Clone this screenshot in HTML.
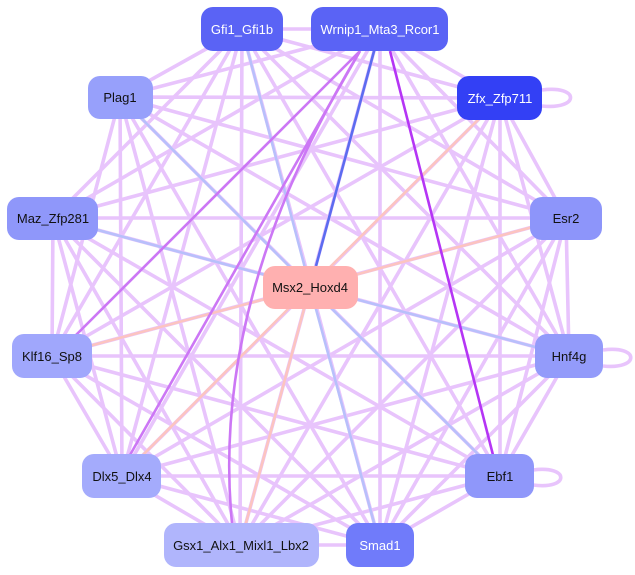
<!DOCTYPE html>
<html><head><meta charset="utf-8"><style>
html,body{margin:0;padding:0;background:#fff;}
svg{display:block;font-family:"Liberation Sans",sans-serif;}
</style></head><body>
<svg width="635" height="575" viewBox="0 0 635 575" xmlns="http://www.w3.org/2000/svg">
<g stroke="#e8c4fc" stroke-width="3.6" fill="none">
<path d="M242 29L120 97M242 29L500 98M242 29L53 218M242 29L566 218M242 29L52 356M242 29L569 356M242 29L122 476M242 29L500 476M242 29L240 545M242 29L380 545"/>
<path d="M380 29L120 97M380 29L500 98M380 29L53 218M380 29L566 218M380 29L569 356M380 29L122 476M380 29L240 545M380 29L380 545"/>
<path d="M120 97L500 98M120 97L566 218M120 97L52 356M120 97L569 356M120 97L122 476M120 97L500 476M120 97L240 545M120 97L380 545"/>
<path d="M500 98L53 218M500 98L566 218M500 98L52 356M500 98L569 356M500 98L122 476M500 98L500 476M500 98L240 545M500 98L380 545"/>
<path d="M53 218L566 218M53 218L52 356M53 218L569 356M53 218L122 476M53 218L500 476M53 218L240 545M53 218L380 545"/>
<path d="M566 218L52 356M566 218L569 356M566 218L122 476M566 218L500 476M566 218L240 545M566 218L380 545"/>
<path d="M52 356L569 356M52 356L122 476M52 356L500 476M52 356L240 545M52 356L380 545"/>
<path d="M569 356L122 476M569 356L500 476M569 356L240 545M569 356L380 545"/>
<path d="M122 476L500 476M122 476L240 545M122 476L380 545"/>
<path d="M500 476L240 545M500 476L380 545M240 545L380 545M242 29L380 29"/>
<path d="M542 90C580 85 580 110 542 106M533 470C570 465 570 490 533 485M603 350C640 345 640 370 603 366"/>
</g>
<g stroke-width="2.6" fill="none">
<path d="M242 29L310 287M120 97L310 287M53 218L310 287M569 356L310 287M500 476L310 287M380 545L310 287" stroke="#b8c0fb"/>
<path d="M566 218L310 287M500 98L310 287M52 356L310 287M122 476L310 287M240 545L310 287" stroke="#fcc4c0"/>
<path d="M380 29L316 266" stroke="#5c6cf0"/>
<path d="M390 51L493 455" stroke="#b535f5"/>
<path d="M360 51L75 336" stroke="#cc77f5"/>
<path d="M360 51L130 455" stroke="#cc77f5"/>
<path d="M360 51Q210 300 232 523" stroke="#cc77f5"/>
</g>
<g font-size="13" text-anchor="middle">
<rect x="201" y="7" width="82" height="44" rx="12" fill="#5a63f5"/><text x="242" y="34" fill="#fff">Gfi1_Gfi1b</text>
<rect x="311" y="7" width="137" height="44" rx="12" fill="#5a63f5"/><text x="380" y="34" fill="#fff">Wrnip1_Mta3_Rcor1</text>
<rect x="88" y="76" width="65" height="43" rx="12" fill="#97a0fb"/><text x="120" y="102" fill="#111">Plag1</text>
<rect x="457" y="76" width="85" height="44" rx="12" fill="#3340f5"/><text x="500" y="103" fill="#fff">Zfx_Zfp711</text>
<rect x="7" y="197" width="91" height="43" rx="12" fill="#8f97fa"/><text x="53" y="223" fill="#111">Maz_Zfp281</text>
<rect x="530" y="197" width="72" height="43" rx="12" fill="#8d95fa"/><text x="566" y="223" fill="#111">Esr2</text>
<rect x="263" y="266" width="95" height="43" rx="12" fill="#ffb0b0"/><text x="310" y="292" fill="#111">Msx2_Hoxd4</text>
<rect x="12" y="334" width="80" height="44" rx="12" fill="#a0a7fc"/><text x="52" y="361" fill="#111">Klf16_Sp8</text>
<rect x="535" y="334" width="68" height="44" rx="12" fill="#939bfa"/><text x="569" y="361" fill="#111">Hnf4g</text>
<rect x="82" y="454" width="79" height="44" rx="12" fill="#a4abfc"/><text x="122" y="481" fill="#111">Dlx5_Dlx4</text>
<rect x="465" y="454" width="69" height="44" rx="12" fill="#8f97fa"/><text x="500" y="481" fill="#111">Ebf1</text>
<rect x="164" y="523" width="155" height="44" rx="12" fill="#b0b5fc"/><text x="241" y="550" fill="#111">Gsx1_Alx1_Mixl1_Lbx2</text>
<rect x="346" y="523" width="68" height="44" rx="12" fill="#707bfa"/><text x="380" y="550" fill="#fff">Smad1</text>
</g>
</svg>
</body></html>
